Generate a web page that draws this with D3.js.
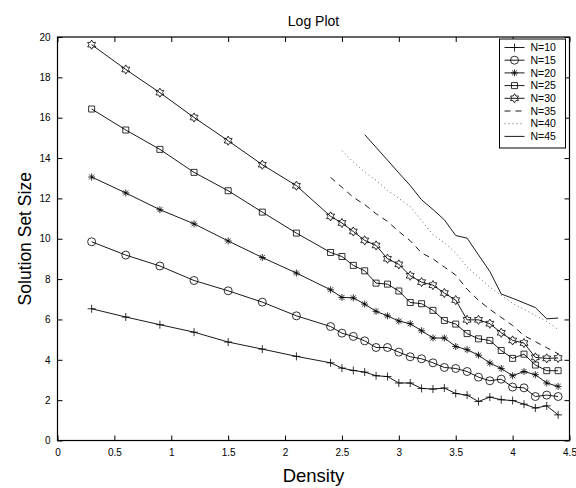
<!DOCTYPE html>
<html><head><meta charset="utf-8">
<script src="https://cdn.jsdelivr.net/npm/d3@7"></script>
<style>body{margin:0;background:#fff} text{font-family:"Liberation Sans",Arial,Helvetica,sans-serif}</style>
</head><body><svg id="c" width="576" height="488"></svg>
<script>
const densities = [0.3,0.6,0.9,1.2,1.5,1.8,2.1,2.4,2.5,2.6,2.7,2.8,2.9,3.0,3.1,3.2,3.3,3.4,3.5,3.6,3.7,3.8,3.9,4.0,4.1,4.2,4.3,4.4];
const densities35 = [2.4,2.5,2.6,2.7,2.8,2.9,3.0,3.1,3.2,3.3,3.4,3.5,3.6,3.7,3.8,3.9,4.0,4.1,4.2,4.3,4.4];
const densities40 = [2.5,2.6,2.7,2.8,2.9,3.0,3.1,3.2,3.3,3.4,3.5,3.6,3.7,3.8,3.9,4.0,4.1,4.2,4.3,4.4];
const densities45 = [2.7,2.8,2.9,3.0,3.1,3.2,3.3,3.4,3.5,3.6,3.7,3.8,3.9,4.0,4.1,4.2,4.3,4.4];

const n10 = [6.53,6.12,5.74,5.37,4.88,4.53,4.17,3.85,3.59,3.47,3.39,3.21,3.17,2.85,2.85,2.58,2.55,2.60,2.33,2.25,1.93,2.15,2.02,1.98,1.80,1.61,1.72,1.27];
const n15 = [9.85,9.19,8.65,7.93,7.42,6.86,6.18,5.65,5.32,5.16,4.94,4.61,4.61,4.38,4.15,4.05,3.85,3.62,3.57,3.42,3.14,2.96,3.04,2.65,2.61,2.18,2.25,2.18];
const n20 = [13.06,12.27,11.44,10.74,9.89,9.07,8.30,7.47,7.09,7.07,6.76,6.40,6.18,5.92,5.79,5.44,5.08,5.08,4.66,4.50,4.23,3.84,3.57,3.21,3.42,3.26,2.85,2.68];
const n25 = [16.43,15.39,14.43,13.29,12.38,11.32,10.28,9.32,9.12,8.68,8.41,7.80,7.75,7.41,6.84,6.78,6.45,5.95,5.77,5.30,5.04,4.96,4.46,4.07,4.28,3.74,3.46,3.46];
const n30 = [19.62,18.39,17.24,16.01,14.86,13.67,12.63,11.11,10.78,10.36,9.92,9.67,9.01,8.73,8.17,7.85,7.70,7.31,6.96,5.98,5.98,5.79,5.34,4.96,4.83,4.12,4.07,4.09];
const n35 = [13.04,12.55,12.05,11.69,11.24,10.86,10.36,9.90,9.30,9.00,8.60,8.20,7.50,6.95,6.50,6.10,5.70,5.20,4.90,4.60,4.30];
const n40 = [14.36,13.80,13.30,12.90,12.40,12.00,11.60,10.90,10.20,9.80,9.30,8.60,8.10,7.60,7.20,6.80,6.50,6.20,5.90,5.50];
const n45 = [15.16,14.53,13.90,13.26,12.64,11.93,11.45,10.94,10.16,10.03,9.20,8.38,7.26,7.05,6.82,6.59,6.03,6.07];

const seriesNames = ["N=10","N=15","N=20","N=25","N=30","N=35","N=40","N=45"];
const xTicks = [0,0.5,1,1.5,2,2.5,3,3.5,4,4.5];
const yTicks = [0,2,4,6,8,10,12,14,16,18,20];

const series = [
  {name:seriesNames[0], xs:densities,   ys:n10, marker:"plus",  dash:null},
  {name:seriesNames[1], xs:densities,   ys:n15, marker:"circle",dash:null},
  {name:seriesNames[2], xs:densities,   ys:n20, marker:"star",  dash:null},
  {name:seriesNames[3], xs:densities,   ys:n25, marker:"square",dash:null},
  {name:seriesNames[4], xs:densities,   ys:n30, marker:"hex",   dash:null},
  {name:seriesNames[5], xs:densities35, ys:n35, marker:null,    dash:"6,5"},
  {name:seriesNames[6], xs:densities40, ys:n40, marker:null,    dash:"1,3"},
  {name:seriesNames[7], xs:densities45, ys:n45, marker:null,    dash:null}
];

const svg = d3.select("#c");
const L=57.5, R=569.5, T=37, B=440.5;
const x = d3.scaleLinear().domain([0,4.5]).range([L,R]);
const y = d3.scaleLinear().domain([0,20]).range([B,T]);

const fmt = d => String(d);
svg.append("g").attr("transform",`translate(0,${B})`)
  .call(d3.axisBottom(x).tickValues(xTicks).tickSize(-5).tickPadding(8).tickFormat(fmt))
  .call(g=>{g.select(".domain").remove(); g.selectAll("text").attr("font-size",10).attr("fill","#000"); g.selectAll("line").attr("stroke","#000");});
svg.append("g").attr("transform",`translate(0,${T})`)
  .call(d3.axisTop(x).tickValues(xTicks).tickSize(-5).tickFormat(""))
  .call(g=>{g.select(".domain").remove(); g.selectAll("line").attr("stroke","#000");});
svg.append("g").attr("transform",`translate(${L},0)`)
  .call(d3.axisLeft(y).tickValues(yTicks).tickSize(-5).tickPadding(7).tickFormat(fmt))
  .call(g=>{g.select(".domain").remove(); g.selectAll("text").attr("font-size",10).attr("fill","#000"); g.selectAll("line").attr("stroke","#000");});
svg.append("g").attr("transform",`translate(${R},0)`)
  .call(d3.axisRight(y).tickValues(yTicks).tickSize(-5).tickFormat(""))
  .call(g=>{g.select(".domain").remove(); g.selectAll("line").attr("stroke","#000");});
svg.append("rect").attr("x",L).attr("y",T).attr("width",R-L).attr("height",B-T)
  .attr("fill","none").attr("stroke","#000").attr("stroke-width",1.2);

function markerPath(type){
  const p = d3.path();
  if(type==="plus"){ p.moveTo(-4,0);p.lineTo(4,0);p.moveTo(0,-4);p.lineTo(0,4); }
  else if(type==="circle"){ p.arc(0,0,4,0,2*Math.PI); }
  else if(type==="star"){ const r=3.5; p.moveTo(-r,0);p.lineTo(r,0);p.moveTo(0,-r);p.lineTo(0,r);
    const s=r*0.72; p.moveTo(-s,-s);p.lineTo(s,s);p.moveTo(-s,s);p.lineTo(s,-s); }
  else if(type==="square"){ p.rect(-3,-3,6,6); }
  else if(type==="hex"){ const ro=4.6, ri=ro/Math.sqrt(3);
    for(let i=0;i<12;i++){ const a=-Math.PI/2+i*Math.PI/6; const r=i%2?ri:ro;
      if(i===0)p.moveTo(r*Math.cos(a),r*Math.sin(a)); else p.lineTo(r*Math.cos(a),r*Math.sin(a)); }
    p.closePath(); }
  return p.toString();
}

const line = d3.line().x(d=>x(d[0])).y(d=>y(d[1]));
series.forEach(s=>{
  const pts = s.xs.map((v,i)=>[v,s.ys[i]]);
  svg.append("path").attr("d",line(pts)).attr("fill","none")
    .attr("stroke", s.name==="N=40" ? "#555" : "#000").attr("stroke-width",0.9)
    .attr("stroke-dasharray",s.dash);
  if(s.marker){
    svg.append("g").selectAll("path").data(pts).join("path")
      .attr("transform",d=>`translate(${x(d[0])},${y(d[1])})`)
      .attr("d",markerPath(s.marker)).attr("fill","none").attr("stroke","#000").attr("stroke-width",0.8);
  }
});

const lg = svg.append("g");
const lx=499.5, ly=39, lw=66, lh=109;
lg.append("rect").attr("x",lx).attr("y",ly).attr("width",lw).attr("height",lh).attr("fill","#fff").attr("stroke","#000").attr("stroke-width",1);
series.forEach((s,i)=>{
  const yy = ly+8.5+i*12.7;
  lg.append("line").attr("x1",lx+5).attr("x2",lx+25).attr("y1",yy).attr("y2",yy)
    .attr("stroke", s.name==="N=40" ? "#555" : "#000").attr("stroke-width",0.9).attr("stroke-dasharray",s.dash);
  if(s.marker) lg.append("path").attr("transform",`translate(${lx+15},${yy})`).attr("d",markerPath(s.marker))
    .attr("fill","none").attr("stroke","#000").attr("stroke-width",0.8);
  lg.append("text").attr("x",lx+31).attr("y",yy).attr("dy","0.35em").attr("font-size",10.5).text(s.name);
});

svg.append("text").attr("x",(L+R)/2).attr("y",26).attr("text-anchor","middle").attr("font-size",14).text("Log Plot");
svg.append("text").attr("x",(L+R)/2).attr("y",482).attr("text-anchor","middle").attr("font-size",18.5).text("Density");
svg.append("text").attr("transform",`translate(31,${(T+B)/2}) rotate(-90)`).attr("text-anchor","middle").attr("font-size",17.5).text("Solution Set Size");
</script></body></html>
